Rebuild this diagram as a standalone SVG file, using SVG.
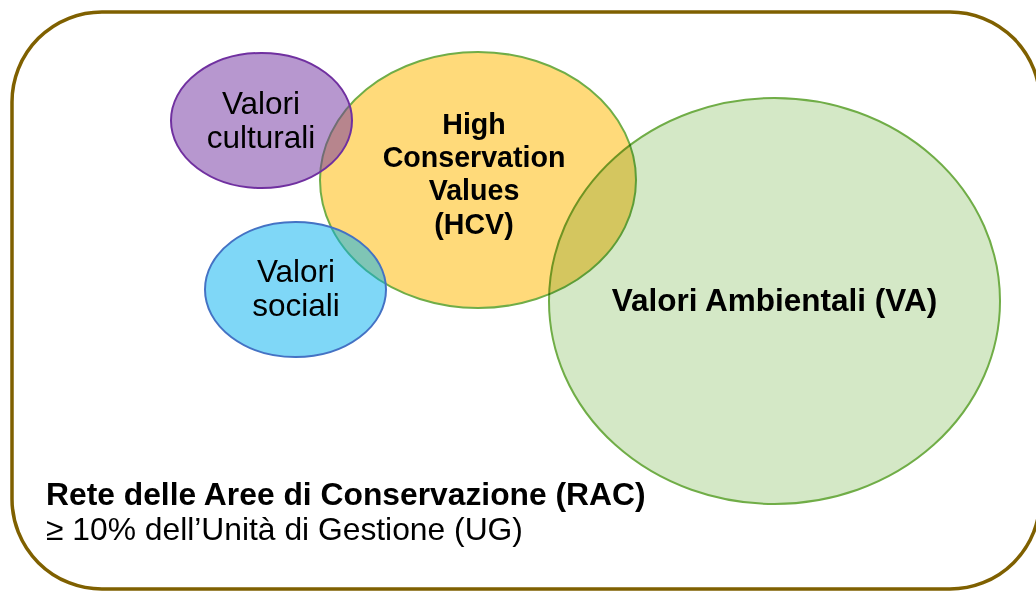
<svg xmlns="http://www.w3.org/2000/svg" width="1036" height="591" viewBox="0 0 1036 591">
<style>
.lbl{font-family:"Liberation Sans",Arial,sans-serif;font-size:31.5px;fill:#000;text-anchor:middle}
.b{font-weight:bold}
.hcv{font-family:"Liberation Sans",Arial,sans-serif;font-size:28.6px;font-weight:bold;fill:#000;text-anchor:middle}
.note{font-family:"Liberation Sans",Arial,sans-serif;font-size:31.8px;fill:#000}
</style>
<rect width="1036" height="591" fill="#fff"/>
<g id="frame">
<rect x="12" y="12" width="1028" height="577" rx="90" ry="90" fill="none" stroke="#7F6000" stroke-width="3.5"/>
</g>
<g id="connectors"></g>
<g id="hcv">
<ellipse cx="478" cy="180" rx="158" ry="128" fill="#FFDA7A" stroke="#70AD47" stroke-width="2"/>
<text class="hcv" x="474" y="134">High</text>
<text class="hcv" x="474" y="167">Conservation</text>
<text class="hcv" x="474" y="200">Values</text>
<text class="hcv" x="474" y="234">(HCV)</text>
</g>
<g id="va">
<ellipse cx="774.5" cy="301" rx="225.5" ry="203" fill="#D4E8C6" stroke="#70AD47" stroke-width="2" style="mix-blend-mode:multiply"/>
<text class="lbl b" x="774.5" y="311">Valori Ambientali (VA)</text>
</g>
<g id="culturali">
<ellipse cx="261.5" cy="120.5" rx="90.5" ry="67.5" fill="#7030A0" fill-opacity="0.5" stroke="#7030A0" stroke-width="2"/>
<text class="lbl" x="261" y="114">Valori</text>
<text class="lbl" x="261" y="148">culturali</text>
</g>
<g id="sociali">
<ellipse cx="295.5" cy="289.5" rx="90.5" ry="67.5" fill="#00B0F0" fill-opacity="0.5" stroke="#4472C4" stroke-width="2"/>
<text class="lbl" x="296" y="282">Valori</text>
<text class="lbl" x="296" y="316">sociali</text>
</g>
<g id="rac">
<text class="note b" x="46" y="505">Rete delle Aree di Conservazione (RAC)</text>
<text class="note" x="46" y="540">≥ 10% dell’Unità di Gestione (UG)</text>
</g>
</svg>
